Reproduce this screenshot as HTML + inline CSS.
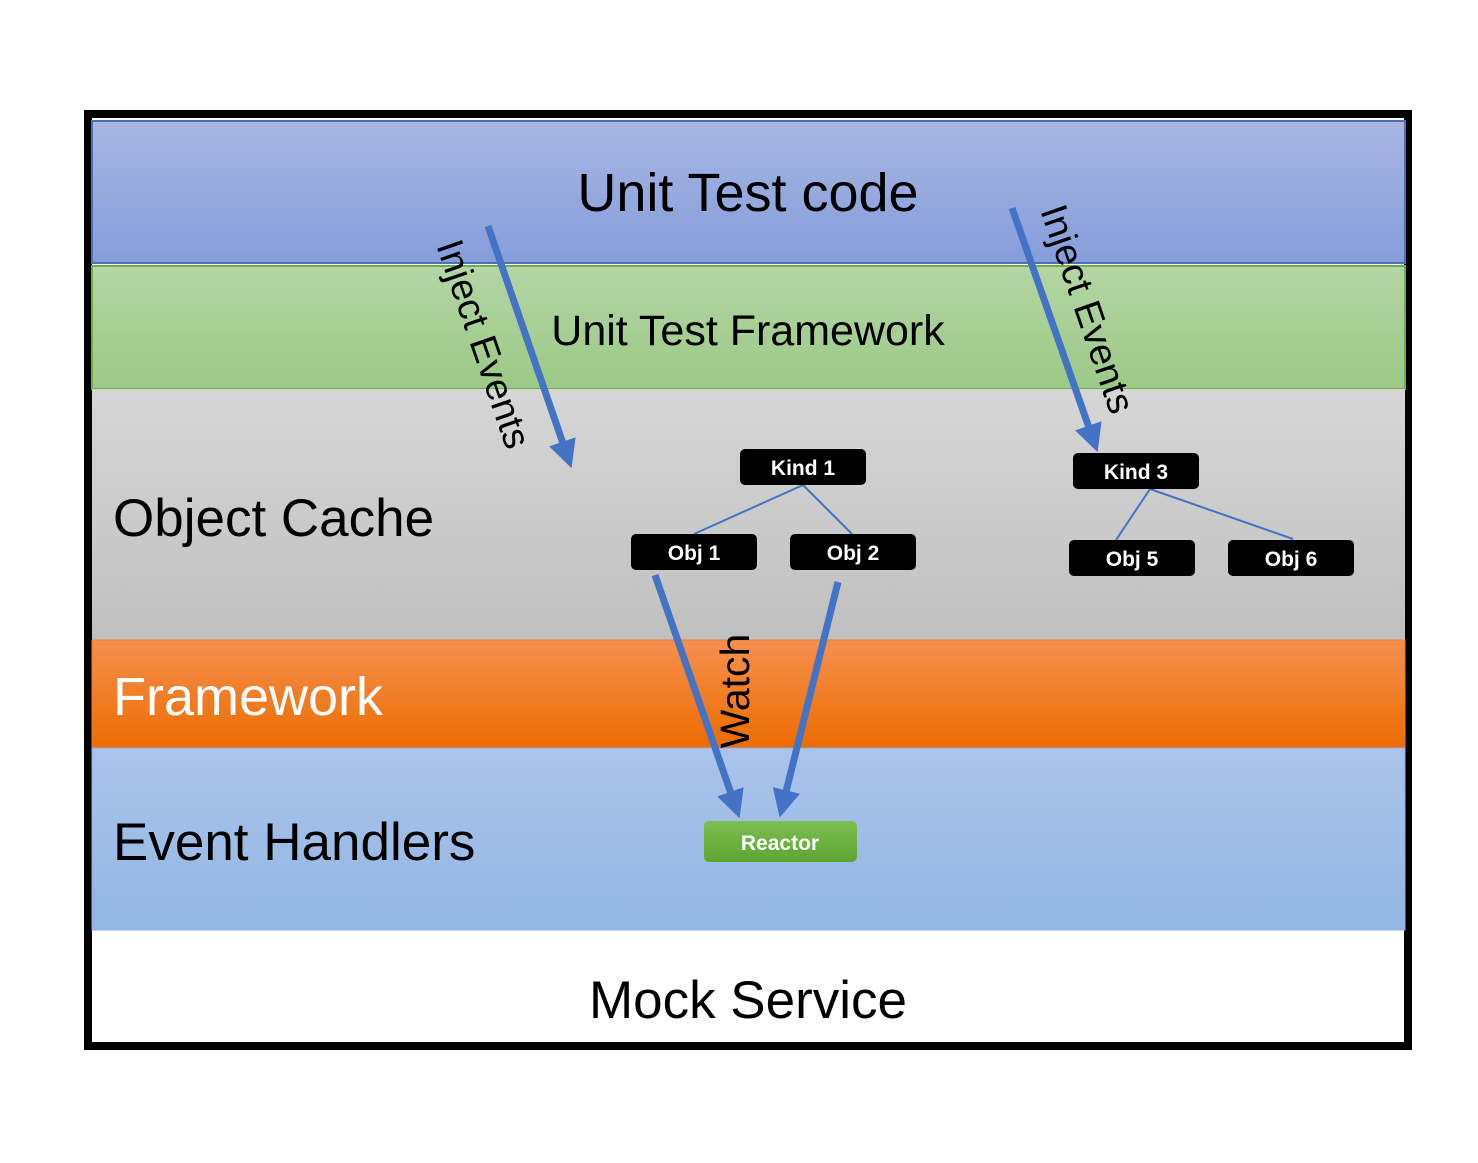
<!DOCTYPE html>
<html><head><style>
body{margin:0;background:#fff;width:1478px;height:1158px;overflow:hidden}
</style></head><body>
<svg width="1478" height="1158" xmlns="http://www.w3.org/2000/svg" font-family="Liberation Sans, DejaVu Sans, sans-serif">
<defs>
<linearGradient id="gb" x1="0" y1="0" x2="0" y2="1"><stop offset="0" stop-color="#a8b6e2"/><stop offset="1" stop-color="#869ddb"/></linearGradient>
<linearGradient id="gg" x1="0" y1="0" x2="0" y2="1"><stop offset="0" stop-color="#b4d5a4"/><stop offset="1" stop-color="#9cc987"/></linearGradient>
<linearGradient id="gy" x1="0" y1="0" x2="0" y2="1"><stop offset="0" stop-color="#d6d6d6"/><stop offset="1" stop-color="#c0c0c0"/></linearGradient>
<linearGradient id="go" x1="0" y1="0" x2="0" y2="1"><stop offset="0" stop-color="#f5904f"/><stop offset="1" stop-color="#ec6c00"/></linearGradient>
<linearGradient id="gl" x1="0" y1="0" x2="0" y2="1"><stop offset="0" stop-color="#aac4ea"/><stop offset="1" stop-color="#93b6e4"/></linearGradient>
<linearGradient id="gr" x1="0" y1="0" x2="0" y2="1"><stop offset="0" stop-color="#7cc050"/><stop offset="1" stop-color="#5ea532"/></linearGradient>
<marker id="ah" markerWidth="4" markerHeight="4" refX="2" refY="2" orient="auto" markerUnits="strokeWidth"><path d="M0,0 L4,2 L0,4z" fill="#4472c4"/></marker>
</defs>
<rect x="88" y="114" width="1320" height="932" fill="#fff" stroke="#000" stroke-width="8"/>
<rect x="92" y="121" width="1313" height="142" fill="url(#gb)" stroke="#4f6fb4" stroke-width="2"/>
<rect x="92" y="266" width="1313" height="123" fill="url(#gg)" stroke="#70ad47" stroke-width="2"/>
<rect x="92" y="389" width="1313" height="251" fill="url(#gy)"/>
<rect x="92" y="640" width="1313" height="108" fill="url(#go)" stroke="#ed7d31" stroke-width="1"/>
<rect x="92" y="748" width="1313" height="182" fill="url(#gl)" stroke="#8fb0e0" stroke-width="1"/>
<text x="748" y="211" font-size="54" text-anchor="middle" fill="#000">Unit Test code</text>
<text x="748" y="345" font-size="43" text-anchor="middle" fill="#000">Unit Test Framework</text>
<text x="113" y="536" font-size="53" fill="#000">Object Cache</text>
<text x="113" y="715" font-size="54" fill="#fff">Framework</text>
<text x="113" y="860" font-size="53" fill="#000">Event Handlers</text>
<text x="748" y="1018" font-size="53" text-anchor="middle" fill="#000">Mock Service</text>
<g stroke="#4472c4" stroke-width="2">
<line x1="803" y1="485" x2="694" y2="534"/><line x1="803" y1="485" x2="852" y2="534"/>
<line x1="1150" y1="489" x2="1116" y2="540"/><line x1="1150" y1="489" x2="1293" y2="539"/>
</g>
<g fill="none" stroke="#4472c4" stroke-width="7">
<line x1="488" y1="226" x2="567" y2="455" marker-end="url(#ah)"/>
<line x1="1012" y1="208" x2="1093" y2="439" marker-end="url(#ah)"/>
<line x1="655" y1="575" x2="735" y2="805" marker-end="url(#ah)"/>
<line x1="838" y1="582" x2="783" y2="804" marker-end="url(#ah)"/>
</g>
<text transform="translate(481,345) rotate(71)" font-size="38" text-anchor="middle" dominant-baseline="middle">Inject Events</text>
<text transform="translate(1085,310) rotate(71)" font-size="38" text-anchor="middle" dominant-baseline="middle">Inject Events</text>
<text transform="translate(738,691) rotate(-90)" font-size="41" text-anchor="middle" dominant-baseline="middle">Watch</text>
<g font-size="21" font-weight="bold" fill="#fff" text-anchor="middle">
<rect x="740" y="449" width="126" height="36" rx="5" fill="#000"/><text x="803" y="475">Kind 1</text>
<rect x="631" y="534" width="126" height="36" rx="5" fill="#000"/><text x="694" y="560">Obj 1</text>
<rect x="790" y="534" width="126" height="36" rx="5" fill="#000"/><text x="853" y="560">Obj 2</text>
<rect x="1073" y="453" width="126" height="36" rx="5" fill="#000"/><text x="1136" y="479">Kind 3</text>
<rect x="1069" y="540" width="126" height="36" rx="5" fill="#000"/><text x="1132" y="566">Obj 5</text>
<rect x="1228" y="540" width="126" height="36" rx="5" fill="#000"/><text x="1291" y="566">Obj 6</text>
<rect x="704" y="821" width="153" height="41" rx="5" fill="url(#gr)"/><text x="780" y="850">Reactor</text>
</g>
</svg>
</body></html>
